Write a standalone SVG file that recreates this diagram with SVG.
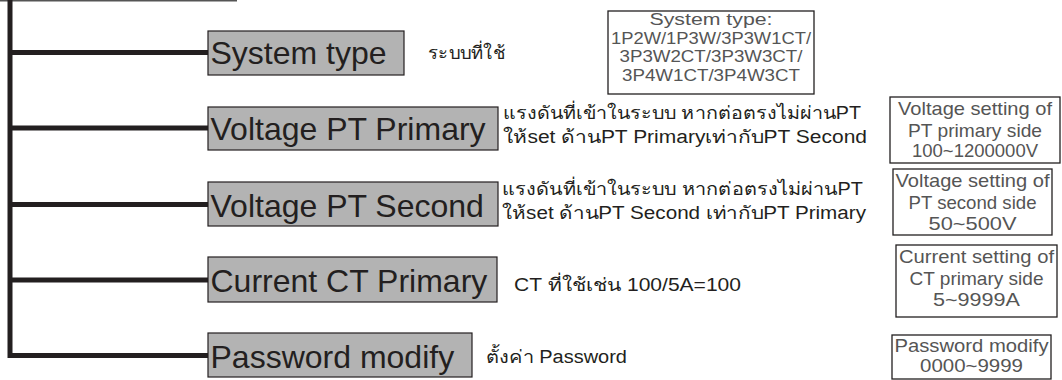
<svg xmlns="http://www.w3.org/2000/svg" width="1062" height="380" viewBox="0 0 1062 380">
<style>
.trunk{stroke:#231f20;stroke-width:5;fill:none}
.lbl{fill:#b3b3b3;stroke:#231f20;stroke-width:1.2}
.lt{font-family:"Liberation Sans",Arial,sans-serif;font-size:32px;fill:#231f20}
.th{font-family:"Liberation Sans","Noto Sans",sans-serif;font-size:18px;fill:#231f20}
.ib{fill:#fff;stroke:#231f20;stroke-width:1.3}
.it{font-family:"Liberation Sans Narrow","Liberation Sans",Arial,sans-serif;fill:#555;text-anchor:middle}
</style>
<rect width="1062" height="380" fill="#fff"/>
<g id="connectors">
<line x1="0" y1="0.7" x2="237" y2="0.7" stroke="#555" stroke-width="1.4"/>
<path class="trunk" d="M10,0 V355.5 H208"/>
<line class="trunk" x1="10" y1="52.5" x2="208" y2="52.5"/>
<line class="trunk" x1="10" y1="128" x2="208" y2="128"/>
<line class="trunk" x1="10" y1="204.5" x2="208" y2="204.5"/>
<line class="trunk" x1="10" y1="280" x2="208" y2="280"/>
</g>
<g id="n-system">
<rect class="lbl" x="208" y="31" width="196" height="44"/>
<text class="lt" x="210.5" y="64">System type</text>
<text class="th" x="428" y="59" textLength="77" lengthAdjust="spacingAndGlyphs">ระบบที่ใช้</text>
<rect class="ib" x="608" y="11" width="206" height="83"/>
<text class="it" font-size="16"><tspan x="711" y="25" textLength="123" lengthAdjust="spacingAndGlyphs">System type:</tspan><tspan x="711" y="43.5" textLength="200" lengthAdjust="spacingAndGlyphs">1P2W/1P3W/3P3W1CT/</tspan><tspan x="711" y="62" textLength="183" lengthAdjust="spacingAndGlyphs">3P3W2CT/3P3W3CT/</tspan><tspan x="711" y="80.5" textLength="178" lengthAdjust="spacingAndGlyphs">3P4W1CT/3P4W3CT</tspan></text>
</g>
<g id="n-ptprimary">
<rect class="lbl" x="208" y="107" width="290" height="43"/>
<text class="lt" x="210.5" y="140">Voltage PT Primary</text>
<text class="th" x="503" y="119" textLength="358" lengthAdjust="spacingAndGlyphs">แรงดันที่เข้าในระบบ หากต่อตรงไม่ผ่านPT</text>
<text class="th" x="503" y="143" textLength="364" lengthAdjust="spacingAndGlyphs">ให้set ด้านPT Primaryเท่ากับPT Second</text>
<rect class="ib" x="890" y="97" width="170" height="66"/>
<text class="it" font-size="18.5"><tspan x="975" y="115" textLength="154" lengthAdjust="spacingAndGlyphs">Voltage setting of</tspan><tspan x="975" y="136.5" textLength="134" lengthAdjust="spacingAndGlyphs">PT primary side</tspan><tspan x="975" y="157" textLength="126" lengthAdjust="spacingAndGlyphs">100~1200000V</tspan></text>
</g>
<g id="n-ptsecond">
<rect class="lbl" x="208" y="182" width="290" height="44"/>
<text class="lt" x="210.5" y="216.5">Voltage PT Second</text>
<text class="th" x="502" y="195" textLength="361" lengthAdjust="spacingAndGlyphs">แรงดันที่เข้าในระบบ หากต่อตรงไม่ผ่านPT</text>
<text class="th" x="502" y="219" textLength="364" lengthAdjust="spacingAndGlyphs">ให้set ด้านPT Second เท่ากับPT Primary</text>
<rect class="ib" x="893" y="169" width="159" height="66"/>
<text class="it" font-size="18.5"><tspan x="972.5" y="187" textLength="154" lengthAdjust="spacingAndGlyphs">Voltage setting of</tspan><tspan x="972.5" y="208.5" textLength="128" lengthAdjust="spacingAndGlyphs">PT second side</tspan><tspan x="972.5" y="229.5" textLength="88" lengthAdjust="spacingAndGlyphs">50~500V</tspan></text>
</g>
<g id="n-ctprimary">
<rect class="lbl" x="208" y="257" width="289" height="45"/>
<text class="lt" x="210.5" y="291.5">Current CT Primary</text>
<text class="th" x="514" y="291" textLength="227" lengthAdjust="spacingAndGlyphs">CT ที่ใช้เช่น 100/5A=100</text>
<rect class="ib" x="896" y="245" width="161" height="72"/>
<text class="it" font-size="18.5"><tspan x="976.5" y="263" textLength="155" lengthAdjust="spacingAndGlyphs">Current setting of</tspan><tspan x="976.5" y="285" textLength="134" lengthAdjust="spacingAndGlyphs">CT primary side</tspan><tspan x="976.5" y="306" textLength="87" lengthAdjust="spacingAndGlyphs">5~9999A</tspan></text>
</g>
<g id="n-password">
<rect class="lbl" x="208" y="333" width="264" height="44"/>
<text class="lt" x="210.5" y="368">Password modify</text>
<text class="th" x="486" y="363" textLength="141" lengthAdjust="spacingAndGlyphs">ตั้งค่า Password</text>
<rect class="ib" x="892" y="335" width="159" height="44"/>
<text class="it" font-size="17.5"><tspan x="971.5" y="352" textLength="154" lengthAdjust="spacingAndGlyphs">Password modify</tspan><tspan x="971.5" y="372" textLength="103" lengthAdjust="spacingAndGlyphs">0000~9999</tspan></text>
</g>
</svg>
